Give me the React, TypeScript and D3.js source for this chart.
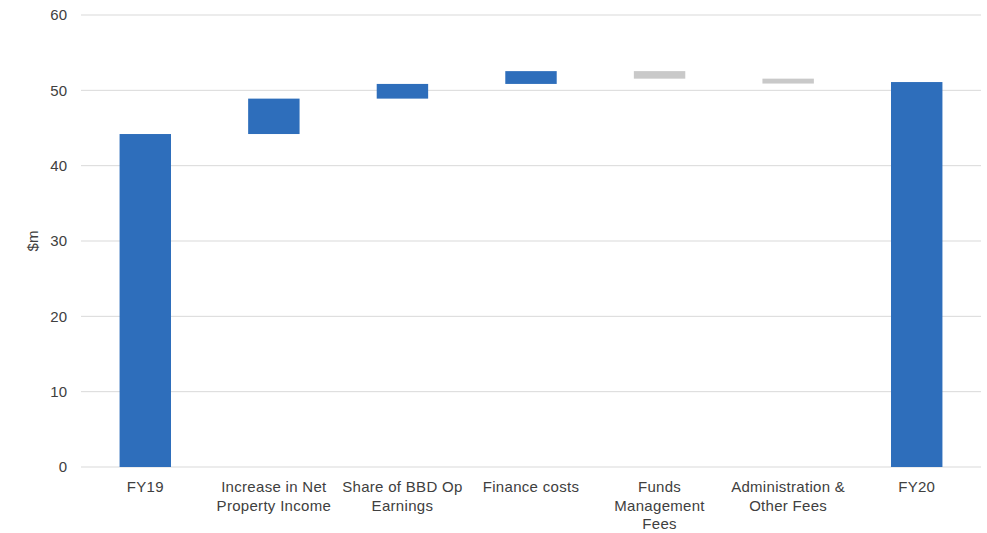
import React from "react";
import * as d3 from "d3";

const categories = ["FY19", "Increase in Net Property Income", "Share of BBD Op Earnings", "Finance costs", "Funds Management Fees", "Administration & Other Fees", "FY20"];
const labelLines = [["FY19"], ["Increase in Net", "Property Income"], ["Share of BBD Op", "Earnings"], ["Finance costs"], ["Funds", "Management", "Fees"], ["Administration &", "Other Fees"], ["FY20"]];
const startValue = 44.2;
const deltas = [4.7, 1.95, 1.7, -1.0, -0.65];
const endValue = 51.1;
const yTicks = [0, 10, 20, 30, 40, 50, 60];

const W = 987, H = 533;
const left = 81, right = 981, top = 15, bottom = 467;

export default function App() {
  const x = d3.scaleBand<string>().domain(categories).range([left, right]).paddingInner(0.6).paddingOuter(0.3);
  const y = d3.scaleLinear().domain([0, 60]).range([bottom, top]);

  const bars: { cat: string; y0: number; y1: number; color: string }[] = [];
  bars.push({ cat: categories[0], y0: 0, y1: startValue, color: "#2E6EBB" });
  let cum = startValue;
  deltas.forEach((d, i) => {
    const next = cum + d;
    bars.push({ cat: categories[i + 1], y0: Math.min(cum, next), y1: Math.max(cum, next), color: d >= 0 ? "#2E6EBB" : "#C9C9C9" });
    cum = next;
  });
  bars.push({ cat: categories[6], y0: 0, y1: endValue, color: "#2E6EBB" });

  const font = "'Liberation Sans', Arial, sans-serif";
  return (
    <svg width={W} height={H} style={{ position: "absolute", left: 0, top: 0, background: "#fff" }}>
      {yTicks.map((t) => (
        <g key={t}>
          <line x1={left} x2={right} y1={y(t)} y2={y(t)} stroke="#D9D9D9" strokeWidth={1} />
          <text x={67} y={y(t)} dy="0.35em" textAnchor="end" fontFamily={font} fontSize={15} fill="#404040">{t}</text>
        </g>
      ))}
      <text transform={`translate(38,${y(30)}) rotate(-90)`} textAnchor="middle" fontFamily={font} fontSize={15} fill="#404040">$m</text>
      {bars.map((b) => (
        <rect key={b.cat} x={x(b.cat)!} width={x.bandwidth()} y={y(b.y1)} height={y(b.y0) - y(b.y1)} fill={b.color} />
      ))}
      {categories.map((c, i) => (
        <text key={c} x={x(c)! + x.bandwidth() / 2} y={492} textAnchor="middle" fontFamily={font} fontSize={15} letterSpacing={0.3} fill="#404040">
          {labelLines[i].map((l, j) => (
            <tspan key={j} x={x(c)! + x.bandwidth() / 2} dy={j === 0 ? 0 : 18.5}>{l}</tspan>
          ))}
        </text>
      ))}
    </svg>
  );
}
